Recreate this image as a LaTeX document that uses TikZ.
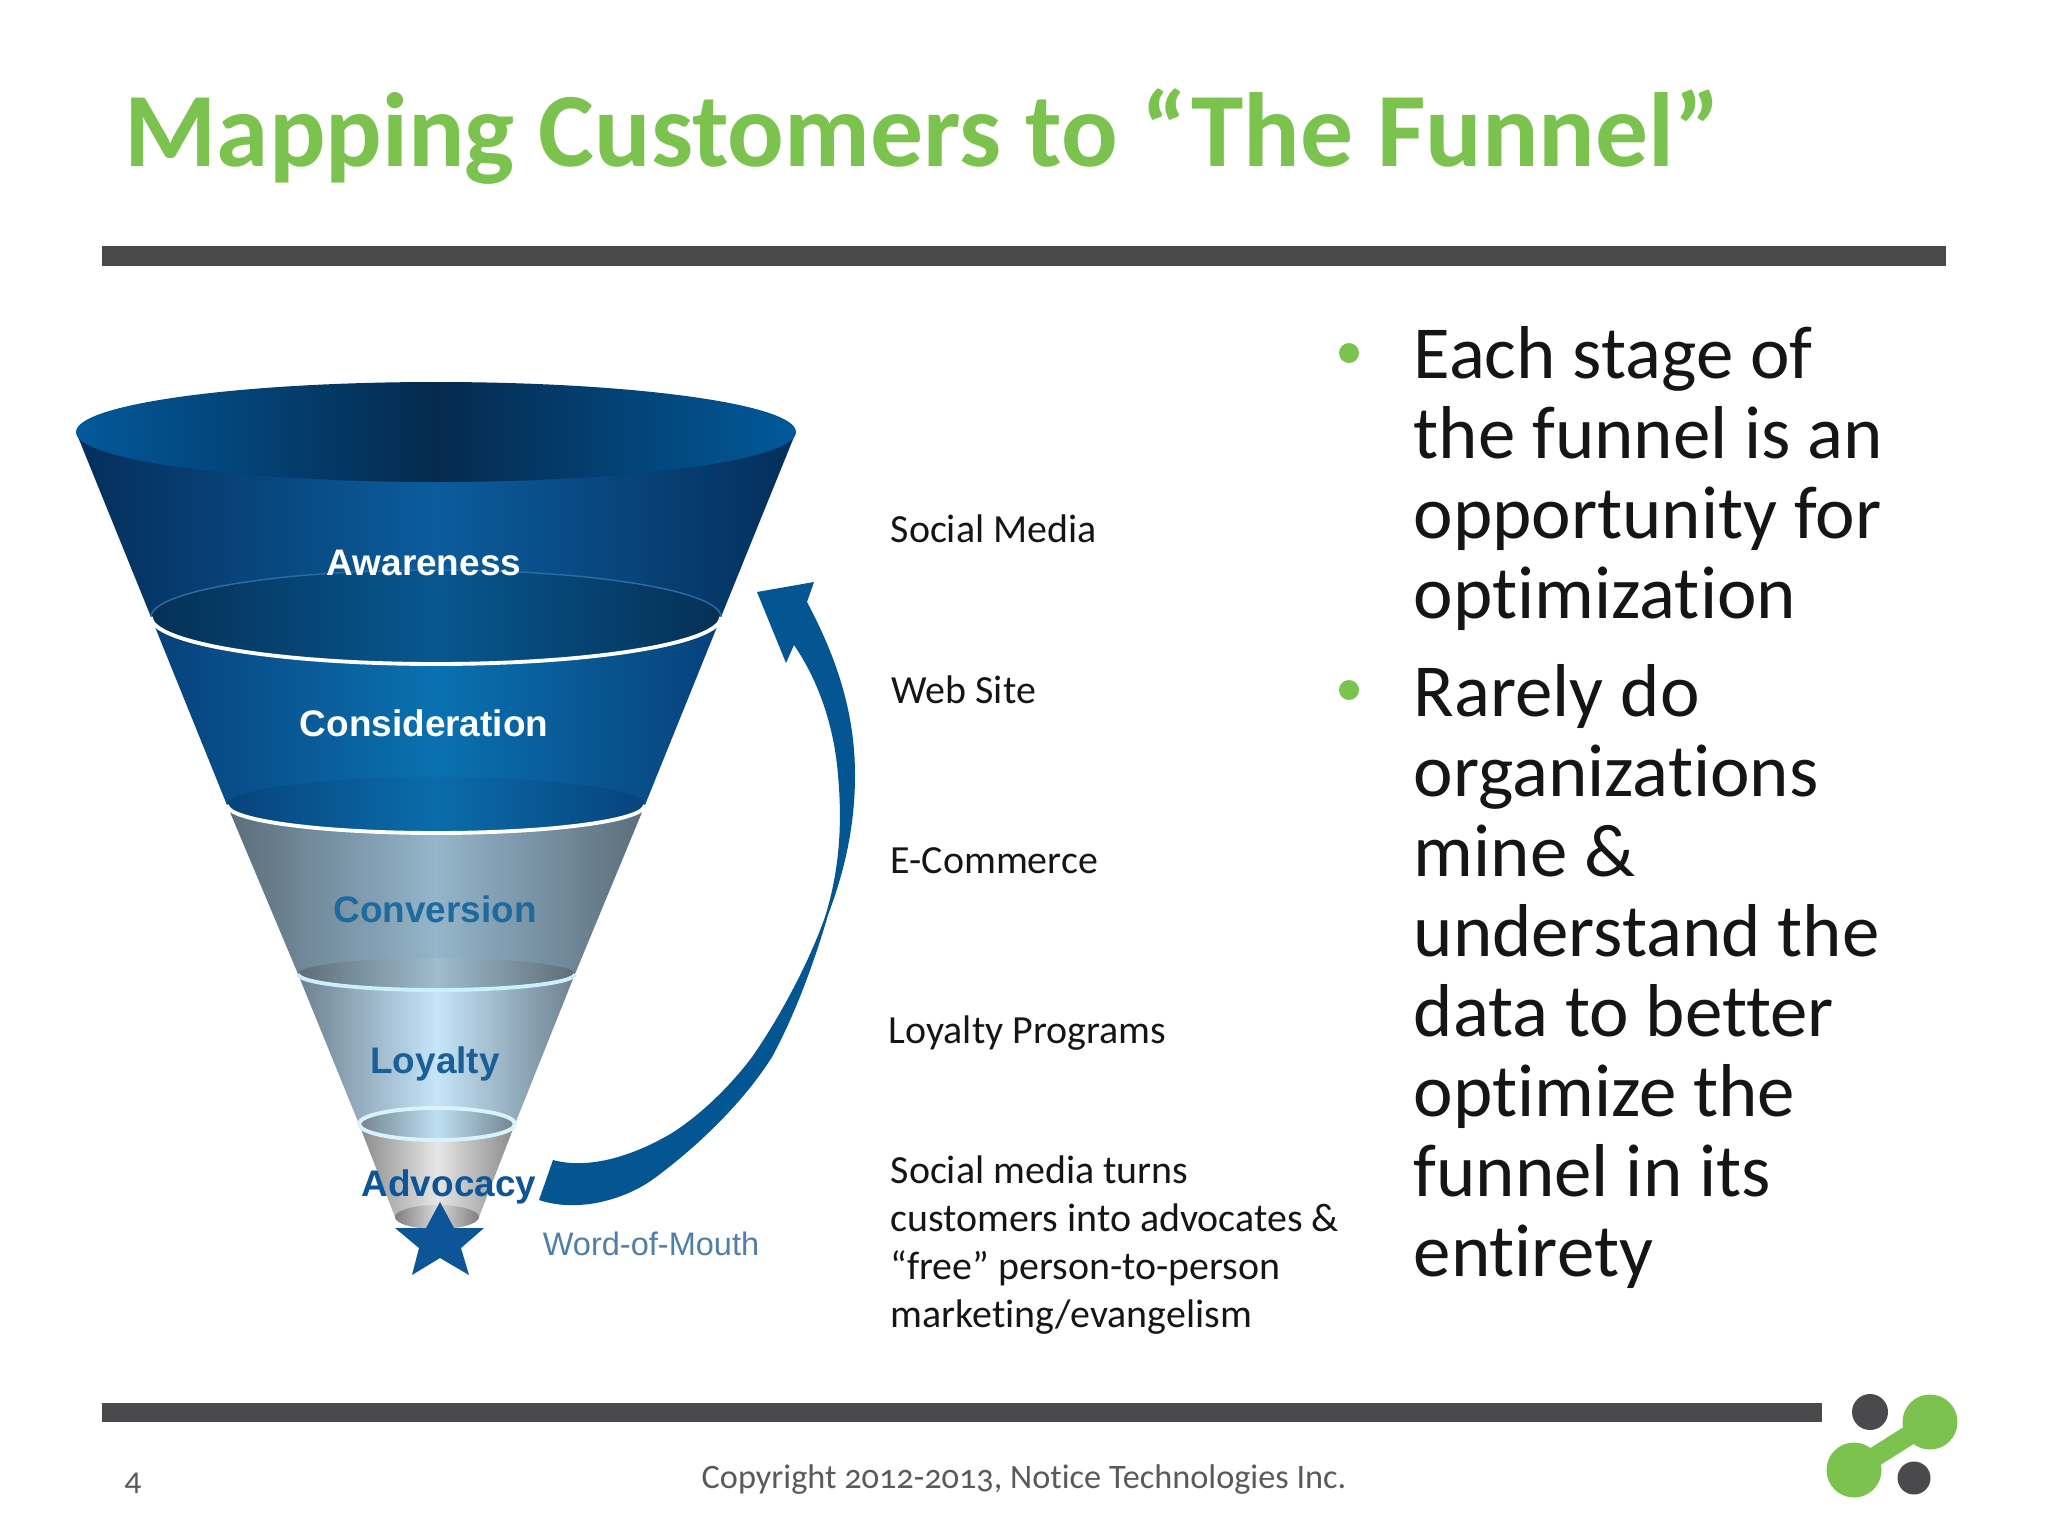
\documentclass[tikz,border=0pt]{standalone}
\usepackage{fontspec}
\setmainfont{Carlito}[Ligatures=CommonOff]
\newfontfamily\arialf{Liberation Sans}
\definecolor{titlegreen}{HTML}{7BC24F}
\definecolor{ruledark}{HTML}{4A494C}
\definecolor{bodytext}{HTML}{151515}
\definecolor{footgray}{HTML}{5A5A5A}
\definecolor{arrowblue}{HTML}{045692}
\definecolor{starblue}{HTML}{0D5596}
\definecolor{convtext}{HTML}{1E6A9E}
\definecolor{loytext}{HTML}{1B5F96}
\definecolor{wordtext}{HTML}{4F7FA8}
\tikzset{
  rulebar/.style={fill=ruledark,draw=none},
  greenfill/.style={fill=titlegreen,draw=none},
  darkfill/.style={fill=ruledark,draw=none},
  small label/.style={anchor=base west,inner sep=0pt,text=bodytext,font=\fontsize{11.35pt}{13.65pt}\selectfont},
  bullet text/.style={anchor=north west,inner sep=0pt,align=left,text=bodytext,font=\fontsize{21.3pt}{22.76pt}\selectfont},
  funnel label/.style={inner sep=0pt,font=\arialf\bfseries\fontsize{10.5pt}{12pt}\selectfont},
  segment/.code 2 args={\definecolor{segedge}{HTML}{#1}\definecolor{segmid}{HTML}{#2}\tikzset{left color=segedge,right color=segedge,middle color=segmid,draw=none}},
  whitering/.style={draw=white,line width=1.1pt},
}
\begin{document}
\begin{tikzpicture}[x=0.01cm,y=-0.01cm]
\useasboundingbox (0,0) rectangle (2048,1536);
\fill[white] (0,0) rectangle (2048,1536);
% title
\node[anchor=base west,inner sep=0pt,text=titlegreen,font=\bfseries\fontsize{30pt}{32pt}\selectfont] (title) at (124,166) {Mapping Customers to “The Funnel”};
\path[rulebar] (102,246) rectangle (1946,266);
\path[rulebar] (102,1403) rectangle (1822,1422);
% ring coordinates
\coordinate (t0l) at (76,432);  \coordinate (t0r) at (796,432);
\coordinate (t1l) at (151,617); \coordinate (t1r) at (721,617);
\coordinate (t2l) at (227,805); \coordinate (t2r) at (645,805);
\coordinate (t3l) at (298,974); \coordinate (t3r) at (575,974);
\coordinate (t4l) at (359,1124);\coordinate (t4r) at (515,1124);
\coordinate (t5l) at (395,1217);\coordinate (t5r) at (479,1217);
% Advocacy
\path[segment={8A8A8A}{E6E6E6}] (t4l) -- (t5l) arc[start angle=180,end angle=0,x radius=42,y radius=12] -- (t4r) -- cycle;
\path[segment={7E7E7E}{DADADA}] (437,1217) ellipse[x radius=42,y radius=12];
% Loyalty
\path[segment={6D8190}{C6E5F8}] (t3l) -- (t4l) arc[start angle=180,end angle=0,x radius=78,y radius=16] -- (t3r) -- cycle;
\path[segment={72848F}{BEDFF2}] (437,1124) ellipse[x radius=78,y radius=16];
\draw[whitering,draw=white!85!cyan] (437,1124) ellipse[x radius=78,y radius=16];
% Conversion
\path[segment={5B6D7A}{94B5CA}] (t2l) -- (t3l) arc[start angle=180,end angle=0,x radius=138.5,y radius=16] -- (t2r) -- cycle;
\path[segment={5E6D78}{9EBCCD}] (436.5,974) ellipse[x radius=138.5,y radius=16];
\draw[whitering,draw=white!80!cyan] (t3l) arc[start angle=180,end angle=0,x radius=138.5,y radius=16];
% Consideration
\path[segment={07407A}{0A71B0}] (t1l) -- (t2l) arc[start angle=180,end angle=0,x radius=209,y radius=28] -- (t1r) -- cycle;
\path[segment={07437C}{0A6CAA}] (436,805) ellipse[x radius=209,y radius=28];
\draw[whitering] (t2l) arc[start angle=180,end angle=0,x radius=209,y radius=28];
% Awareness
\path[segment={052E5B}{0B5C9D}] (t0l) -- (t1l) arc[start angle=180,end angle=0,x radius=285,y radius=47] -- (t0r) -- cycle;
\path[segment={053056}{07578F}] (436,617) ellipse[x radius=285,y radius=47];
\draw[draw=white!15!arrowblue,line width=0.4pt] (t1l) arc[start angle=180,end angle=360,x radius=285,y radius=47];
\draw[whitering] (t1l) arc[start angle=180,end angle=0,x radius=285,y radius=47];
\path[segment={02599A}{052A4E}] (436,432) ellipse[x radius=360,y radius=50];
% star
\fill[starblue] (440,1202) -- (454,1228) -- (484,1228) -- (461,1248) -- (469,1275) -- (440,1258) -- (412,1275) -- (419,1248) -- (395,1228) -- (426,1228) -- cycle;
% arrow
\fill[arrowblue] (757,592) -- (814,582) -- (807,602)
  .. controls (838,660) and (855,715) .. (855,775)
  .. controls (855,825) and (845,870) .. (828,915)
  .. controls (815,960) and (795,1015) .. (772,1057)
  .. controls (745,1100) and (700,1145) .. (652,1180)
  .. controls (620,1202) and (575,1212) .. (539,1200)
  -- (553,1160)
  .. controls (590,1170) and (635,1155) .. (672,1133)
  .. controls (705,1112) and (735,1080) .. (752,1057)
  .. controls (778,1020) and (808,965) .. (825,917)
  .. controls (838,875) and (843,830) .. (838,775)
  .. controls (834,725) and (818,680) .. (794,645)
  -- (786,663) -- cycle;
% funnel labels
\node[funnel label,text=white] (aw) at (424,563) {Awareness};
\node[funnel label,text=white] (co) at (424,723) {Consideration};
\node[funnel label,text=convtext] (cv) at (435,909) {Conversion};
\node[funnel label,text=loytext] (ly) at (435,1064) {Loyalty};
\node[funnel label,text=starblue] (ad) at (449,1187) {Advocacy};
\node[inner sep=0pt,text=wordtext,font=\arialf\fontsize{9.25pt}{12pt}\selectfont] (wm) at (651,1244) {Word-of-Mouth};
% middle labels
\node[small label] (l1) at (890,542) {Social Media};
\node[small label] (l2) at (891,703) {Web Site};
\node[small label] (l3) at (890,873) {E-Commerce};
\node[small label] (l4) at (888,1043) {Loyalty Programs};
\node[small label,anchor=north west,align=left] (l5) at (890,1155) {Social media turns\\customers into advocates \&\\“free” person-to-person\\marketing/evangelism};
% bullets
\node[circle,fill=titlegreen,draw=none,minimum size=0.2cm,inner sep=0pt] (b1) at (1349,353) {};
\node[circle,fill=titlegreen,draw=none,minimum size=0.2cm,inner sep=0pt] (b2) at (1349,690) {};
\node[bullet text] (p1) at (1413,326) {Each stage of\\the funnel is an\\opportunity for\\optimization};
\node[bullet text] (p2) at (1413,664) {Rarely do\\organizations\\mine \&\\understand the\\data to better\\optimize the\\funnel in its\\entirety};
% footer
\node[anchor=base west,inner sep=0pt,text=footgray,font=\fontsize{9.4pt}{11pt}\selectfont] (pg) at (124,1490) {\addfontfeatures{Numbers=OldStyle}4};
\node[anchor=base west,inner sep=0pt,text=footgray,font=\fontsize{9.75pt}{11pt}\selectfont] (cp) at (701,1488) {\addfontfeatures{Numbers=OldStyle}Copyright 2012-2013, Notice Technologies Inc.};
% logo
\path[darkfill] (1870,1412) circle[radius=18];
\path[darkfill] (1914,1478) circle[radius=16.5];
\path[greenfill] (1930,1422) circle[radius=27.5];
\path[greenfill] (1854,1470) circle[radius=27.5];
\draw[titlegreen,line width=5.6pt] (1930,1422) -- (1854,1470);
\end{tikzpicture}
\end{document}
